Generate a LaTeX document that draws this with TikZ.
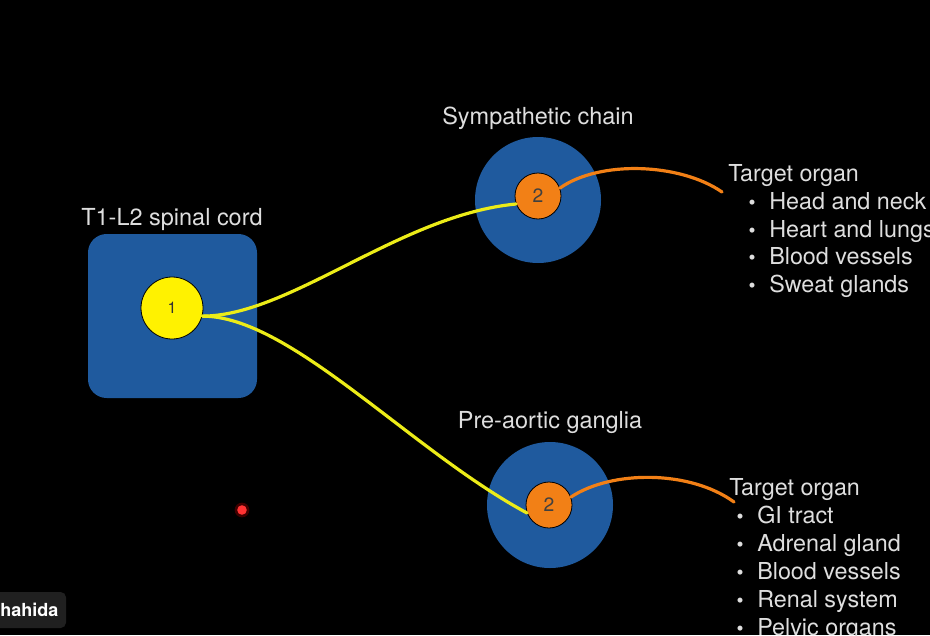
\documentclass[tikz,border=0pt]{standalone}
\usepackage{fontspec}
\setmainfont{TeX Gyre Heros}
\usetikzlibrary{positioning}
\definecolor{slideblue}{RGB}{31,90,158}
\definecolor{nerveyellow}{RGB}{236,236,24}
\definecolor{nerveorange}{RGB}{242,128,22}
\definecolor{textgray}{RGB}{222,222,222}
\definecolor{tagbg}{RGB}{32,32,32}

\begin{document}
\begin{tikzpicture}[x=0.75pt, y=-0.75pt,
		cordbox/.style={fill=slideblue, rounded corners=14pt, inner sep=0pt,
			minimum width=126.75pt, minimum height=123pt},
		ganglion/.style={circle, fill=slideblue, inner sep=0pt, minimum size=94.5pt},
		neurone/.style={circle, draw=black, semithick, fill=yellow, inner sep=0pt,
			minimum size=46.5pt, text=black!80, font=\fontsize{12}{14}\selectfont},
		neurtwo/.style={circle, draw=black, semithick, fill=nerveorange, inner sep=0pt,
			minimum size=34.5pt, text=black!75, font=\fontsize{14.5}{16}\selectfont},
		title/.style={text=textgray, font=\fontsize{17.6}{20}\selectfont},
		organ/.style={text=textgray, anchor=base west, inner sep=0pt,
			font=\fontsize{17.5}{20}\selectfont},
		bull/.style={text=textgray, anchor=base, inner sep=0pt,
			font=\fontsize{15}{17}\selectfont},
		pre/.style={nerveyellow, line width=2.4pt, line cap=round},
		post/.style={nerveorange, line width=2.4pt, line cap=round}]
		
		\fill[black] (0,0) rectangle (930,635);
		\useasboundingbox (0,0) rectangle (930,635);
		\clip (0,0) rectangle (930,635);
		
		% spinal cord
		\node[cordbox] (cord) at (172.5,316) {};
		\node[title] (cordlbl) at (172,220) {T1-L2 spinal cord};
		\node[neurone] (one) at (172,308) {1};
		
		% ganglia
		\node[ganglion] (symp) at (538,200) {};
		\node[title] (symplbl) at (538,118) {Sympathetic chain};
		\node[neurtwo] (twoS) at (538,196) {2};
		
		\node[ganglion] (preao) at (550,505) {};
		\node[title] (preaolbl) at (550,422) {Pre-aortic ganglia};
		\node[neurtwo] (twoP) at (549,505) {2};
		
		% preganglionic fibres
		\draw[pre] (one.-15) .. controls (290,316) and (400,215) .. (twoS.200);
		\draw[pre] (one.-15) .. controls (290,316) and (410,450) .. (twoP.200);
		
		% postganglionic fibres
		\coordinate (endS) at (722,192);
		\coordinate (endP) at (734,502);
		\draw[post] (twoS.20) .. controls (600,160) and (680,163) .. (endS);
		\draw[post] (twoP.20) .. controls (612,470) and (690,470) .. (endP);
		
		% target organs, upper
		\node[organ] (orgS) at (728,181.5) {Target organ};
		\foreach \org [count=\i] in {Head and neck, Heart and lungs, Blood vessels, Sweat glands} {
			\node[bull] (bS\i) at (752,181.5+27.8*\i) {\textbullet};
			\node[organ] (oS\i) at (769,181.5+27.8*\i) {\org};
		}
		
		% target organs, lower
		\node[organ] (orgP) at (729,495) {Target organ};
		\foreach \org [count=\i] in {GI tract, Adrenal gland, Blood vessels, Renal system, Pelvic organs} {
			\node[bull] (bP\i) at (740,495+28*\i) {\textbullet};
			\node[organ] (oP\i) at (757,495+28*\i) {\org};
		}
		
		% pointer dot
		\fill[red, opacity=0.25] (242,510) circle (5.5pt);
		\fill[red!80!white] (242,510) circle (3.6pt);
		
		% name tag
		\fill[tagbg, rounded corners=4pt] (-20,592) rectangle (66,628);
		\node[anchor=base west, inner sep=0pt, text=white,
		font=\fontsize{13.5}{16}\selectfont\bfseries] (tag) at (0,616) {hahida};
		
	\end{tikzpicture}
\end{document}
